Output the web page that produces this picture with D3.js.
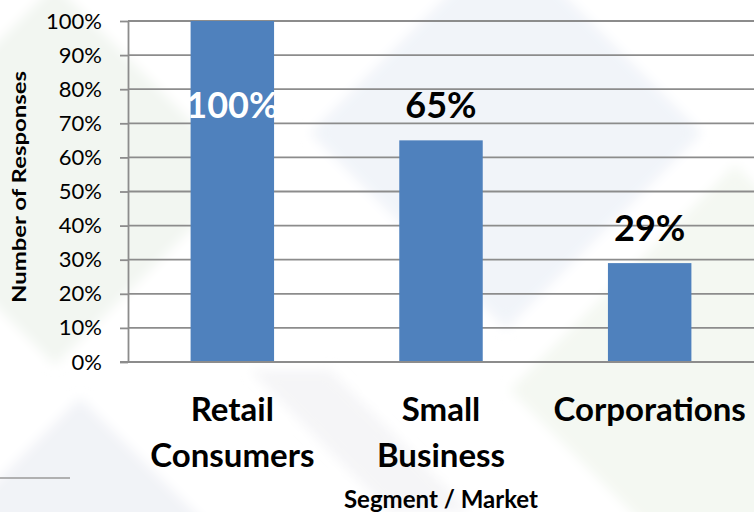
<!DOCTYPE html>
<html>
<head>
<meta charset="utf-8">
<script src="https://cdn.jsdelivr.net/npm/d3@7"></script>
<style>
  html, body { margin: 0; padding: 0; background: #ffffff; }
  svg { display: block; }
  text { font-family: Lato, "Open Sans", sans-serif; }
</style>
</head>
<body>
<svg id="chart" width="754" height="512"></svg>
<script>
// Survey responses by market segment
const categories = ["Retail Consumers", "Small Business", "Corporations"];
const shares = [1.00, 0.65, 0.29];
const valueLabels = ["100%", "65%", "29%"];
const yTicks = [0, 0.1, 0.2, 0.3, 0.4, 0.5, 0.6, 0.7, 0.8, 0.9, 1.0];
const yTitle = "Number of Responses";
const xTitle = "Segment / Market";

const W = 754, H = 512;
const plot = { left: 128, right: 754, top: 21, bottom: 362 };

const svg = d3.select("#chart");

// faint, softened watermark shapes behind the chart
const defs = svg.append("defs");
defs.append("filter").attr("id", "soft")
  .append("feGaussianBlur").attr("stdDeviation", 6);
const bg = svg.append("g").attr("class", "watermark").attr("filter", "url(#soft)");
const diamond = (cx, cy, r) => [[cx, cy - r], [cx + r, cy], [cx, cy + r], [cx - r, cy]];
const shapes = [
  { pts: diamond(55, 175, 190), fill: "#f2f6f1" },
  { pts: diamond(506, 133, 196), fill: "#f1f4f9" },
  { pts: diamond(735, 390, 225), fill: "#f4f8f2" },
  { pts: diamond(80, 560, 162), fill: "#f1f3f7" },
  { pts: [[250, 370], [330, 370], [470, 512], [390, 512]], fill: "#f5f5f7" }
];
bg.selectAll("polygon").data(shapes).join("polygon")
  .attr("points", d => d.pts.map(p => p.join(",")).join(" "))
  .attr("fill", d => d.fill);

const x = d3.scaleBand()
  .domain(categories)
  .range([plot.left, plot.right])
  .paddingInner(0.6)
  .paddingOuter(0.3);

const y = d3.scaleLinear()
  .domain([0, 1])
  .range([plot.bottom, plot.top]);

const gridColor = "#8c8c8c";

// horizontal gridlines
svg.append("g").selectAll("line").data(yTicks).join("line")
  .attr("x1", plot.left).attr("x2", plot.right)
  .attr("y1", d => y(d)).attr("y2", d => y(d))
  .attr("stroke", gridColor).attr("stroke-width", 1.8);

// y axis
const yAxis = svg.append("g")
  .attr("transform", `translate(${plot.left},0)`)
  .call(d3.axisLeft(y).tickValues(yTicks).tickFormat(d3.format(".0%"))
    .tickSize(8).tickSizeOuter(0).tickPadding(18));
yAxis.select(".domain").attr("stroke", gridColor).attr("stroke-width", 1.8);
yAxis.selectAll(".tick line").attr("stroke", gridColor).attr("stroke-width", 1.8);
yAxis.selectAll(".tick text")
  .attr("fill", "#000").style("font-size", "22px").style("font-family", "Lato, sans-serif");

// bars
svg.append("g").selectAll("rect").data(categories).join("rect")
  .attr("x", d => x(d))
  .attr("width", x.bandwidth())
  .attr("y", (d, i) => y(shares[i]))
  .attr("height", (d, i) => y(0) - y(shares[i]))
  .attr("fill", "#4f81bd");

// value labels: above the bar, or inside in white when the bar fills the plot
svg.append("g").selectAll("text").data(categories).join("text")
  .attr("x", d => x(d) + x.bandwidth() / 2)
  .attr("y", (d, i) => {
    const top = y(shares[i]);
    return top - 48 < plot.top ? top + 97 : top - 22;
  })
  .attr("text-anchor", "middle")
  .attr("fill", (d, i) => (y(shares[i]) - 48 < plot.top ? "#ffffff" : "#000000"))
  .style("font-size", "36px").style("font-weight", "700")
  .text((d, i) => valueLabels[i]);

// x axis (baseline + two-line category labels)
const xAxis = svg.append("g")
  .attr("transform", `translate(0,${plot.bottom})`)
  .call(d3.axisBottom(x).tickSize(0).tickSizeOuter(0));
xAxis.select(".domain").remove();
svg.append("line")
  .attr("x1", plot.left - 8).attr("x2", plot.right)
  .attr("y1", y(0)).attr("y2", y(0))
  .attr("stroke", gridColor).attr("stroke-width", 1.8);
xAxis.selectAll(".tick text").each(function (d) {
  const t = d3.select(this).text(null).attr("y", 59).attr("dy", null)
    .attr("fill", "#000").style("font-size", "33px").style("font-weight", "700")
    .style("font-family", "Lato, sans-serif");
  d.split(" ").forEach((w, k) => {
    t.append("tspan").attr("x", 0).attr("dy", k === 0 ? 0 : 46).text(w);
  });
});

// axis titles
svg.append("text")
  .attr("transform", `translate(26,187) rotate(-90)`)
  .attr("text-anchor", "middle")
  .attr("textLength", 232).attr("lengthAdjust", "spacingAndGlyphs")
  .style("font-size", "19px").style("font-weight", "700")
  .text(yTitle);

svg.append("text")
  .attr("x", 441).attr("y", 508)
  .attr("text-anchor", "middle")
  .style("font-size", "24px").style("font-weight", "700")
  .text(xTitle);

// short rule at the lower left
svg.append("line")
  .attr("x1", 0).attr("x2", 70).attr("y1", 478).attr("y2", 478)
  .attr("stroke", "#9a9a9a").attr("stroke-width", 1.5);
</script>
</body>
</html>
